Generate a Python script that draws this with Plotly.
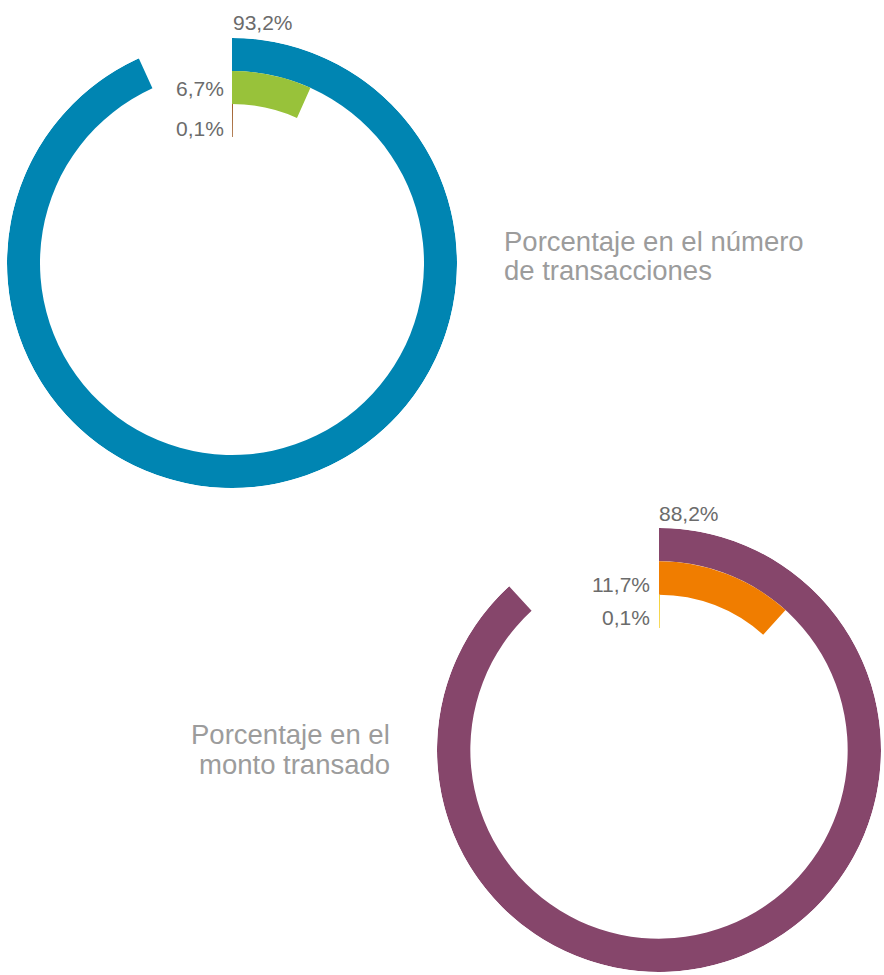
import plotly.graph_objects as go

W, H = 884, 975

# Data
ring_labels = ["Bancos", "Cooperativas", "Otros"]
pct_transacciones = [93.2, 6.7, 0.1]
pct_monto = [88.2, 11.7, 0.1]
colors_top = ["#0085B2", "#98C23A", "#A0602D"]
colors_bottom = ["#86466B", "#F07D00", "#F5CF2E"]
title_top = ["Porcentaje en el número", "de transacciones"]
title_bottom = ["Porcentaje en el", "monto transado"]


def fmt(v):
    return f"{v:.1f}".replace(".", ",") + "%"


def ring_trace(values, colors, subplot):
    n = len(values)
    return go.Barpolar(
        theta=[v * 3.6 / 2 for v in values],
        width=[v * 3.6 for v in values],
        r=[1] * n,
        base=[n - 1 - i for i in range(n)],
        marker=dict(color=colors, line=dict(width=0)),
        subplot=subplot,
        hoverinfo="skip",
        showlegend=False,
    )


fig = go.Figure()
fig.add_trace(ring_trace(pct_transacciones, colors_top, "polar"))
fig.add_trace(ring_trace(pct_monto, colors_bottom, "polar2"))


def px_dom(x0, x1, y0, y1):
    return dict(x=[x0 / W, x1 / W], y=[1 - y1 / H, 1 - y0 / H])


polar_common = dict(
    bgcolor="rgba(0,0,0,0)",
    radialaxis=dict(visible=False, range=[0, 3]),
    angularaxis=dict(visible=False, rotation=90, direction="clockwise"),
    bargap=0,
)

fig.update_layout(
    width=W,
    height=H,
    autosize=False,
    margin=dict(l=0, r=0, t=0, b=0),
    paper_bgcolor="white",
    plot_bgcolor="white",
    polar=dict(domain=px_dom(7, 457, 38, 488), hole=126 / 225, **polar_common),
    polar2=dict(domain=px_dom(437, 881, 528, 972), hole=122 / 222, **polar_common),
)

ann = []
lab_font = dict(family="Liberation Sans, Arial, sans-serif", size=21, color="#6b6b6b")
title_font = dict(family="Liberation Sans, Arial, sans-serif", size=27.5, color="#9c9c9c")

# top labels
top_pos = [(231, 22, "left"), (226, 89, "right"), (226, 128, "right")]
for v, (x, y, al) in zip(pct_transacciones, top_pos):
    ann.append(dict(x=x / W, y=1 - y / H, xref="paper", yref="paper", text=fmt(v),
                    showarrow=False, xanchor=al, yanchor="middle", font=lab_font))
bot_pos = [(657, 513, "left"), (652, 584, "right"), (652, 617, "right")]
for v, (x, y, al) in zip(pct_monto, bot_pos):
    ann.append(dict(x=x / W, y=1 - y / H, xref="paper", yref="paper", text=fmt(v),
                    showarrow=False, xanchor=al, yanchor="middle", font=lab_font))

for i, line in enumerate(title_top):
    ann.append(dict(x=502 / W, y=1 - (241 + 29 * i) / H, xref="paper", yref="paper",
                    text=line, showarrow=False, xanchor="left", yanchor="middle",
                    font=title_font))
for i, line in enumerate(title_bottom):
    ann.append(dict(x=392 / W, y=1 - (734 + 30 * i) / H, xref="paper", yref="paper",
                    text=line, showarrow=False, xanchor="right", yanchor="middle",
                    font=title_font))

fig.update_layout(annotations=ann)
fig.write_html("out.html", config={"displayModeBar": False},
               post_script="document.body.style.margin='0';")
